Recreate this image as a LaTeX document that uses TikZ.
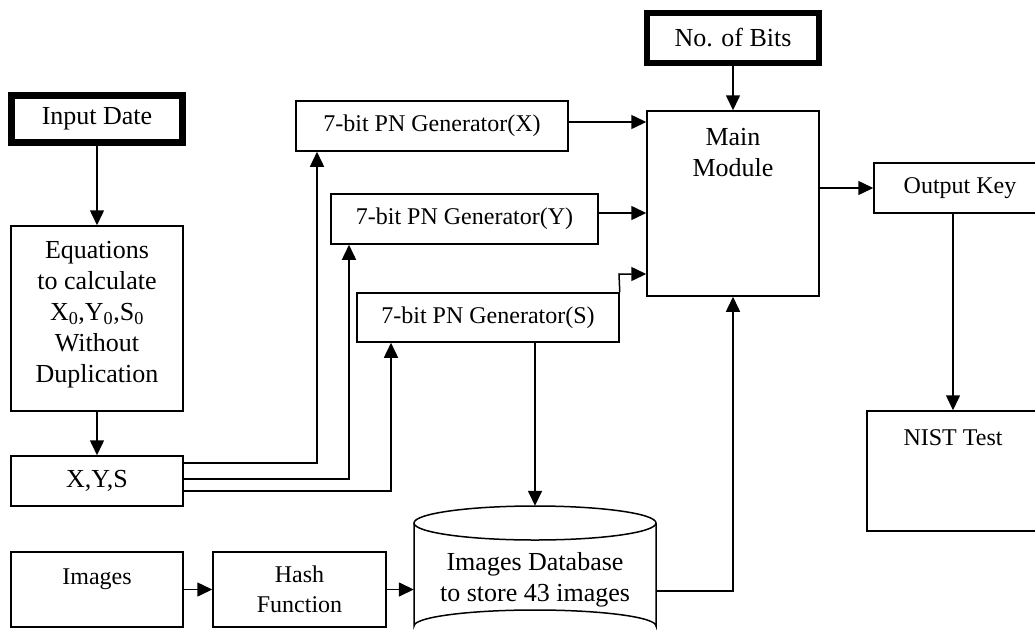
\documentclass[tikz,border=0pt]{standalone}
\usepackage{fontspec}
\setmainfont{Liberation Serif}
\usetikzlibrary{arrows.meta,calc}
\begin{document}
\begin{tikzpicture}[x=1pt,y=-1pt,
  box/.style={draw,line width=1.5pt,inner sep=0pt,minimum width=172pt,minimum height=50pt,align=center,font=\fontsize{24}{30}\selectfont},
  bigtxt/.style={font=\fontsize{26}{31}\selectfont,align=center,inner sep=0pt},
  smalltxt/.style={font=\fontsize{24}{28}\selectfont,align=center,inner sep=0pt},
  arr/.style={line width=1.5pt,-{Triangle[length=15pt,width=14pt]}},
  ln/.style={line width=1.5pt}]
\useasboundingbox (0,0) rectangle (1035,643);
% boxes
\node[box,line width=7pt,minimum width=171pt,minimum height=47pt,font=\fontsize{26}{31}\selectfont] (input) at (97,119) {Input Date};
\node[box,line width=6pt,minimum height=50pt,font=\fontsize{26}{31}\selectfont] (nob) at (733,38) {No. of Bits};
\node[box,minimum height=185pt] (eq) at (97,318.5) {};
\node[bigtxt] (eqt) at (97,315) {Equations\\to calculate\\X\textsubscript{0},Y\textsubscript{0},S\textsubscript{0}\\Without\\Duplication};
\node[box,font=\fontsize{26}{31}\selectfont] (xys) at (97,481) {X,Y,S};
\node[box,minimum width=272pt] (pnx) at (432,126) {7-bit PN Generator(X)};
\node[box,minimum width=267pt] (pny) at (464.5,219) {7-bit PN Generator(Y)};
\node[box,minimum width=262pt,minimum height=49pt] (pns) at (488,317.5) {7-bit PN Generator(S)};
\node[box,minimum height=185pt] (main) at (733,203.5) {};
\node[bigtxt] (maint) at (733,153) {Main\\Module};
\node[box] (outk) at (960,188) {Output Key};
\node[box,minimum height=120pt] (nist) at (953,471) {};
\node[smalltxt] (nistt) at (953,438) {NIST Test};
\node[box,minimum height=75pt] (images) at (97,589.5) {};
\node[smalltxt] (imagest) at (97,579) {Images};
\node[box,minimum width=173pt,minimum height=75pt] (hash) at (299.5,589.5) {Hash\\Function};
% database cylinder
\node[minimum width=242pt,minimum height=137pt,inner sep=0pt] (db) at (535,574.5) {};
\draw[ln,fill=white] (414,523) -- (414,626) arc[start angle=180,end angle=360,x radius=121,y radius=16] -- (656,523);
\draw[ln] (535,523) ellipse[x radius=121,y radius=17];
\node[bigtxt] (dbt) at (535,580) {Images Database\\to store 43 images};
% coordinates for bends
\coordinate (c1) at (317,463);
\coordinate (c2) at (349,479);
\coordinate (c3) at (391,491);
\coordinate (sx) at (619,274);
\coordinate (dbr) at (656,591);
% connectors
\draw[arr] (input.south) -- (eq.north);
\draw[arr] (eq.south) -- (xys.north);
\draw[arr] (xys.east |- c1) -- (c1) -- (c1 |- pnx.south);
\draw[arr] (xys.east |- c2) -- (c2) -- (c2 |- pny.south);
\draw[arr] (xys.east |- c3) -- (c3) -- (c3 |- pns.south);
\draw[arr] ($(pnx.east)+(0,-4)$) -- ($(pnx.east -| main.west)+(0,-4)$);
\draw[arr] ($(pny.east)+(0,-6)$) -- ($(pny.east -| main.west)+(0,-6)$);
\draw[arr] (pns.north east) -- (sx) -- (sx -| main.west);
\draw[arr] (nob.south) -- (main.north);
\draw[arr] (main.east |- outk.west) -- (outk.west);
\draw[arr] (outk.south -| nist.north) -- (nist.north);
\draw[arr] (pns.south -| db.north) -- (db.north);
\draw[arr] (images.east |- hash.west) -- (hash.west);
\draw[arr] (hash.east) -- (hash.east -| db.west);
\draw[arr] (dbr) -- (dbr -| main.south) -- (main.south);
\end{tikzpicture}
\end{document}
